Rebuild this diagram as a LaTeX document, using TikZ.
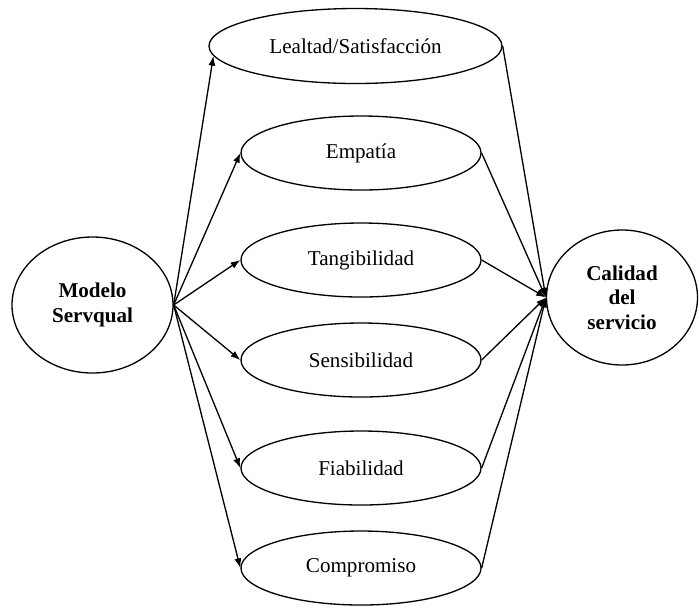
\documentclass[tikz,border=0pt]{standalone}
\usepackage{fontspec}
\setmainfont{Liberation Serif}
\usetikzlibrary{shapes,arrows.meta,positioning}

\begin{document}
\begin{tikzpicture}[
    dim/.style={
        ellipse,
        draw=black,
        line width=0.75pt,
        inner sep=0pt,
        minimum width=4.8cm,
        minimum height=1.48cm,
        align=center,
        font=\fontsize{12}{14}\selectfont
    },
    main/.style={
        ellipse,
        draw=black,
        line width=0.75pt,
        inner sep=0pt,
        align=center,
        font=\fontsize{12}{14}\selectfont\bfseries
    },
    arrow/.style={
        -{Latex[length=5.5pt,width=4pt]},
        line width=0.75pt
    }
]
\useasboundingbox (0,0) rectangle (13.98,-12.14);

% Model and result
\node[main, minimum width=3.22cm, minimum height=2.72cm] (ms) at (1.85,-6.1) {Modelo\\Servqual};
\node[main, minimum width=3.02cm, minimum height=2.7cm] (cs) at (12.44,-5.95) {Calidad\\del\\servicio};

% Dimensions
\node[dim, minimum width=5.86cm, minimum height=1.5cm] (lea) at (7.11,-0.92) {Lealtad/Satisfacción};
\node[dim] (emp) at (7.22,-3.06) {Empatía};
\node[dim] (tan) at (7.22,-5.2) {Tangibilidad};
\node[dim] (sen) at (7.22,-7.2) {Sensibilidad};
\node[dim] (fia) at (7.22,-9.36) {Fiabilidad};
\node[dim] (com) at (7.22,-11.36) {Compromiso};

% Arrows
\draw[arrow] (ms.east) -- (lea.184);
\foreach \d in {emp,tan,sen,fia,com}
    \draw[arrow] (ms.east) -- (\d.west);
\foreach \d in {lea,emp,tan,sen,fia,com}
    \draw[arrow] (\d.east) -- (cs.west);

\end{tikzpicture}
\end{document}
